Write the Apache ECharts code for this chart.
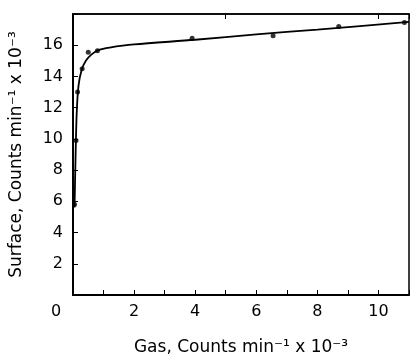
<!DOCTYPE html>
<html><head><meta charset="utf-8">
<script src="https://cdn.jsdelivr.net/npm/echarts@6/dist/echarts.min.js"></script>
<style>html,body{margin:0;padding:0;background:#fff}#c{width:412px;height:361px}</style>
</head><body><div id="c"></div>
<script>
// Measured points (Gas, Surface) in counts/min x 10^-3
const gasPts = [0.05, 0.1, 0.15, 0.3, 0.5, 0.8, 3.9, 6.55, 8.7, 10.85];
const surfPts = [5.8, 9.9, 13.0, 14.5, 15.55, 15.65, 16.45, 16.6, 17.2, 17.45];
// Hand-read points along the drawn curve
const curveX = [0.05, 0.08, 0.12, 0.18, 0.28, 0.42, 0.6, 0.85, 1.2, 2, 4, 6, 8, 11];
const curveY = [5.6, 8.5, 11.6, 13.4, 14.4, 15.0, 15.4, 15.7, 15.85, 16.05, 16.35, 16.7, 17.0, 17.5];
const xTicks = [0, 2, 4, 6, 8, 10];
const yTicks = [2, 4, 6, 8, 10, 12, 14, 16];

const font = '"DejaVu Sans", sans-serif';
const chart = echarts.init(document.getElementById('c'));
chart.setOption({
  animation: false,
  grid: {left: 73, right: 2, top: 14, bottom: 65, show: true, borderColor: '#000', borderWidth: 1.5},
  xAxis: [{
    type: 'value', min: 0, max: 11, interval: 1,
    axisLine: {show: true, lineStyle: {color: '#000', width: 2}},
    axisTick: {inside: true, length: 5, lineStyle: {color: '#000', width: 1}},
    splitLine: {show: false},
    axisLabel: {
      color: '#000', fontFamily: font, fontSize: 16, margin: 9,
      formatter: v => xTicks.includes(v) ? (v === 0 ? '{z|0}' : String(v)) : '',
      rich: {z: {padding: [0, 34, 0, 0], fontSize: 16, fontFamily: font, color: '#000'}}
    },
    name: 'Gas, Counts min⁻¹ x 10⁻³', nameLocation: 'middle', nameGap: 44,
    nameTextStyle: {color: '#000', fontFamily: font, fontSize: 17}
  }, {
    type: 'value', position: 'top', min: 0, max: 11, interval: 5,
    axisLine: {show: true, lineStyle: {color: '#000', width: 1.5}},
    axisTick: {inside: true, length: 5, lineStyle: {color: '#000'}},
    axisLabel: {show: false}, splitLine: {show: false}
  }],
  yAxis: {
    type: 'value', min: 0, max: 18, interval: 2,
    axisLine: {show: true, lineStyle: {color: '#000', width: 2}},
    axisTick: {inside: true, length: 5, lineStyle: {color: '#000', width: 1}},
    splitLine: {show: false},
    axisLabel: {color: '#000', fontFamily: font, fontSize: 16, margin: 10,
      formatter: v => yTicks.includes(v) ? String(v) : ''},
    name: 'Surface, Counts min⁻¹ x 10⁻³', nameLocation: 'middle', nameGap: 48,
    nameTextStyle: {color: '#000', fontFamily: font, fontSize: 17}
  },
  series: [{
    type: 'line', data: curveX.map((x, i) => [x, curveY[i]]),
    smooth: 0.3, showSymbol: false, lineStyle: {color: '#000', width: 1.8}
  }, {
    type: 'scatter', data: gasPts.map((x, i) => [x, surfPts[i]]),
    symbolSize: 5, itemStyle: {color: '#000'}
  }]
});
</script></body></html>
